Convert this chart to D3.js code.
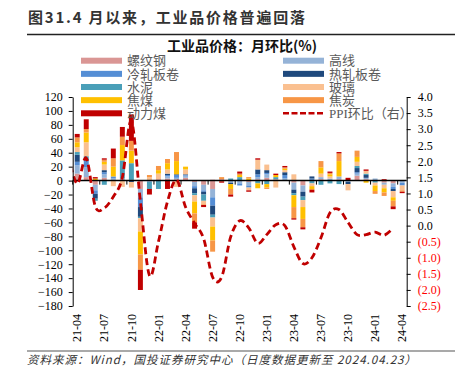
<!DOCTYPE html>
<html>
<head>
<meta charset="utf-8">
<script src="https://cdn.jsdelivr.net/npm/d3@7"></script>
<style>
  body { margin: 0; background: #fff; }
</style>
</head>
<body>
<svg id="chart" width="467" height="376"></svg>
<script>
    'use strict';

    var months = ['21-04', '21-05', '21-06', '21-07', '21-08', '21-09', '21-10', '21-11', '21-12',
        '22-01', '22-02', '22-03', '22-04', '22-05', '22-06', '22-07', '22-08', '22-09', '22-10', '22-11', '22-12',
        '23-01', '23-02', '23-03', '23-04', '23-05', '23-06', '23-07', '23-08', '23-09', '23-10', '23-11', '23-12',
        '24-01', '24-02', '24-03', '24-04'];

    // monthly change of each product price (%), left axis
    var rebar       = [10, 5, -6, 4, 1, 1, 1, -12, 0, 2, 3, 2, 4, -2, -6, -12, 2, 0, 0, -2, 2, 4, 2, 0, -3, -7, 0, 2, 0, 2, 0, 7, 2, 0, -3, -4, 0];
    var wireRod     = [12, 14, -8, 5, 2, 2, 0, -12, -2, 0, 3, 2, 3, -6, -8, -12, 0, -3, -4, -5, 3, 5, 0, 3, -10, -9, 1, 3, 3, 4, -2, 3, 2, 3, -3, -5, -3];
    var coldRolled  = [5, 10, -5, 3, 3, 0, 0, -14, 0, 0, 2, 4, 1, -3, -2, -12, 0, 0, -3, -3, 4, 2, 0, 5, 0, 0, 2, 0, 0, 0, 0, 2, 0, 0, 0, -3, -4];
    var hotRolled   = [10, 3, -7, 3, 0, 0, -2, -14, 0, 0, 2, 1, 1, -7, -4, -13, 0, -2, 0, 0, 7, 4, 0, 4, -5, -7, 3, 0, 0, 0, -3, 6, 4, 0, 0, -3, 0];
    var cement      = [4, 3, -3, -6, 0, 26, 24, -2, -10, -12, 0, 0, 0, -3, -9, -4, 0, 3, 5, 0, -4, -5, 3, 0, -3, -5, -4, -6, -4, -5, 0, 3, 2, -3, 0, 0, 0];
    var glass       = [7, 20, 0, 8, -8, -9, -8, -19, 5, 8, 6, -9, 7, -9, -5, -13, 0, 0, 0, -4, 14, 8, -10, 3, 9, -10, -4, 5, 3, 0, -9, 6, 4, -4, -5, -9, -7];
    var cokingCoal  = [7, 14, 3, 4, 14, 22, 18, -33, 0, 5, 9, 19, 4, -17, 0, -20, -1, -7, 3, 3, -7, -5, 3, 2, -17, -17, -5, 9, 3, 22, 0, 7, -3, -8, -6, -5, 0];
    var coke        = [7, 5, 0, 3, 12, 12, 14, -22, 3, 6, 6, 13, 0, -13, -1, -16, 3, -8, 2, 2, 0, -2, 0, 2, -16, -12, 0, 9, 2, 11, 0, 9, 0, -4, -5, -8, -2];
    var thermalCoal = [5, 14, 2, 2, 14, 14, 38, -29, -8, 0, -12, 0, 0, -9, -3, 1, -2, -3, 3, -2, 2, 0, 2, 2, -2, -3, -4, 0, 2, 2, 4, 0, 2, 0, 2, -4, -2];

    // PPI month on month (%), right axis
    var ppiMonths = ['21-03', '21-04', '21-05', '21-06', '21-07', '21-08', '21-09', '21-10', '21-11', '21-12',
        '22-01', '22-02', '22-03', '22-04', '22-05', '22-06', '22-07', '22-08', '22-09', '22-10', '22-11', '22-12',
        '23-01', '23-02', '23-03', '23-04', '23-05', '23-06', '23-07', '23-08', '23-09', '23-10', '23-11', '23-12',
        '24-01', '24-02', '24-03'];
    var ppi = [2.2, 1.3, 2.1, 0.6, 0.55, 0.9, 1.5, 3.25, 0.75, -1.55,
        -0.5, 0.75, 1.42, 0.58, 0.07, -0.4, -1.6, -1.6, -0.35, 0.15, -0.07, -0.55,
        -0.28, 0.03, 0.0, -0.66, -1.18, -1.0, -0.38, 0.4, 0.5, 0.1, -0.28, -0.28,
        -0.2, -0.3, -0.08];

    var seriesNames = ['螺纹钢', '高线', '冷轧板卷', '热轧板卷', '水泥', '玻璃', '焦煤', '焦炭', '动力煤'];
    var seriesValues = [rebar, wireRod, coldRolled, hotRolled, cement, glass, cokingCoal, coke, thermalCoal];
    var seriesColors = ['#DA9694', '#95B3D7', '#558ED5', '#1F497D', '#4A9FB8', '#FAC090', '#FFC000', '#F79646', '#C00000'];
    var ppiName = 'PPI环比（右）';

    var leftTicks = [120, 100, 80, 60, 40, 20, 0, -20, -40, -60, -80, -100, -120, -140, -160, -180];
    var rightTicks = [4.0, 3.5, 3.0, 2.5, 2.0, 1.5, 1.0, 0.5, 0.0, -0.5, -1.0, -1.5, -2.0, -2.5];

    var numFont = '"Liberation Serif", "Times New Roman", serif';
    var cjkFont = '"Liberation Serif", "Noto Sans CJK SC", serif';

    var plotLeft = 72.7, plotRight = 406.7, plotTop = 97, plotBottom = 306;

    var svg = d3.select('#chart');

    // header
    svg.append('text')
        .attr('x', 28)
        .attr('y', 23)
        .attr('font-family', '"Noto Sans CJK SC", sans-serif')
        .attr('font-weight', 'bold')
        .attr('font-size', 15)
        .attr('fill', '#333')
        .attr('textLength', 277)
        .attr('lengthAdjust', 'spacing')
        .text('图31.4 月以来，工业品价格普遍回落');

    svg.append('line')
        .attr('x1', 27).attr('x2', 455)
        .attr('y1', 34.5).attr('y2', 34.5)
        .attr('stroke', '#222')
        .attr('stroke-width', 1.5);

    svg.append('text')
        .attr('x', 242)
        .attr('y', 51)
        .attr('text-anchor', 'middle')
        .attr('font-family', '"Noto Sans CJK SC", sans-serif')
        .attr('font-weight', 'bold')
        .attr('font-size', 14)
        .attr('fill', '#111')
        .text('工业品价格：月环比(%)');

    // scales
    var x = d3.scaleBand()
        .domain(months)
        .range([plotLeft, plotRight])
        .paddingInner(0.45)
        .paddingOuter(0.225);

    var yLeft = d3.scaleLinear().domain([-180, 120]).range([plotBottom, plotTop]);
    var yRight = d3.scaleLinear().domain([-2.5, 4]).range([plotBottom, plotTop]);

    var rows = months.map(function (m, i) {
        var row = { month: m };
        seriesNames.forEach(function (name, j) { row[name] = seriesValues[j][i]; });
        return row;
    });

    var layers = d3.stack()
        .keys(seriesNames)
        .offset(d3.stackOffsetDiverging)(rows);

    // stacked bars
    var bars = svg.append('g').attr('class', 'bars');
    layers.forEach(function (layer, j) {
        bars.append('g')
            .attr('fill', seriesColors[j])
            .selectAll('rect')
            .data(layer.filter(function (d) { return d[1] !== d[0]; }))
            .enter().append('rect')
            .attr('x', function (d) { return x(d.data.month); })
            .attr('width', x.bandwidth())
            .attr('y', function (d) { return yLeft(d[1]); })
            .attr('height', function (d) { return yLeft(d[0]) - yLeft(d[1]); });
    });

    // category axis on the zero line
    var zeroY = yLeft(0);
    var gap = (x.step() - x.bandwidth()) / 2;
    svg.append('line')
        .attr('x1', plotLeft).attr('x2', plotRight)
        .attr('y1', zeroY).attr('y2', zeroY)
        .attr('stroke', '#000')
        .attr('stroke-width', 1.5);

    var labelIdx = d3.range(0, months.length, 3);
    svg.append('g')
        .selectAll('line')
        .data(labelIdx)
        .enter().append('line')
        .attr('x1', function (i) { return x(months[i]) - gap; })
        .attr('x2', function (i) { return x(months[i]) - gap; })
        .attr('y1', zeroY)
        .attr('y2', zeroY + 4)
        .attr('stroke', '#000');

    svg.append('g')
        .selectAll('text')
        .data(labelIdx)
        .enter().append('text')
        .attr('transform', function (i) {
            return 'translate(' + (x(months[i]) + x.bandwidth() / 2) + ',314)rotate(-90)';
        })
        .attr('dy', '0.35em')
        .attr('text-anchor', 'end')
        .attr('font-family', numFont)
        .attr('font-size', 12)
        .attr('fill', '#000')
        .text(function (i) { return months[i]; });

    // PPI line (right axis), clipped to the plot
    svg.append('clipPath')
        .attr('id', 'plot-clip')
        .append('rect')
        .attr('x', plotLeft).attr('y', 0)
        .attr('width', plotRight - plotLeft).attr('height', 376);

    function monthX(label) {
        var idx = (+label.slice(0, 2) - 21) * 12 + (+label.slice(3) - 4);
        return x(months[0]) + x.bandwidth() / 2 + idx * x.step();
    }

    var ppiLine = d3.line()
        .x(function (d, i) { return monthX(ppiMonths[i]); })
        .y(function (d) { return yRight(d); })
        .curve(d3.curveCardinal.tension(0));

    svg.append('path')
        .datum(ppi)
        .attr('clip-path', 'url(#plot-clip)')
        .attr('d', ppiLine)
        .attr('fill', 'none')
        .attr('stroke', '#C00000')
        .attr('stroke-width', 2.8)
        .attr('stroke-dasharray', '7,4');

    // legend
    var legendItems = seriesNames.map(function (name, j) {
        return { name: name, color: seriesColors[j], dashed: false };
    });
    legendItems.push({ name: ppiName, color: '#C00000', dashed: true });

    var legend = svg.append('g').attr('class', 'legend');
    legendItems.forEach(function (item, i) {
        var col = i % 2, row = Math.floor(i / 2);
        var lx = col === 0 ? 81 : 283;
        var ly = 60.7 + row * 13.15;
        if (item.dashed) {
            legend.append('line')
                .attr('x1', lx).attr('x2', lx + 41)
                .attr('y1', ly).attr('y2', ly)
                .attr('stroke', item.color)
                .attr('stroke-width', 2.5)
                .attr('stroke-dasharray', '6,2.5');
        } else {
            legend.append('rect')
                .attr('x', lx).attr('y', ly - 3)
                .attr('width', 41).attr('height', 6)
                .attr('fill', item.color);
        }
        legend.append('text')
            .attr('x', lx + 46)
            .attr('y', ly)
            .attr('dy', '0.36em')
            .attr('font-family', cjkFont)
            .attr('font-size', 13)
            .attr('fill', '#595959')
            .text(item.name);
    });

    // value axes
    var leftAxis = svg.append('g')
        .attr('transform', 'translate(' + plotLeft + ',0)')
        .call(d3.axisLeft(yLeft).tickValues(leftTicks).tickSize(4).tickSizeOuter(0).tickPadding(6)
            .tickFormat(d3.format('d')));
    leftAxis.selectAll('text').attr('font-family', numFont).attr('font-size', 12).attr('fill', '#000');

    var rightAxis = svg.append('g')
        .attr('transform', 'translate(' + plotRight + ',0)')
        .call(d3.axisRight(yRight).tickValues(rightTicks).tickSize(4).tickSizeOuter(0).tickPadding(7)
            .tickFormat(function (v) {
                return v < 0 ? '(' + Math.abs(v).toFixed(1) + ')' : v.toFixed(1);
            }));
    rightAxis.selectAll('text')
        .attr('font-family', numFont)
        .attr('font-size', 12)
        .attr('fill', function (v) { return v < 0 ? '#FF0000' : '#000'; });

    // footer
    svg.append('line')
        .attr('x1', 27).attr('x2', 455)
        .attr('y1', 351).attr('y2', 351)
        .attr('stroke', '#555')
        .attr('stroke-width', 1.2);

    svg.append('text')
        .attr('x', 27)
        .attr('y', 364)
        .attr('font-family', '"Noto Sans CJK SC", sans-serif')
        .attr('font-style', 'italic')
        .attr('font-size', 11.5)
        .attr('fill', '#333')
        .attr('textLength', 389)
        .attr('lengthAdjust', 'spacing')
        .text('资料来源：Wind，国投证券研究中心（日度数据更新至 2024.04.23）');
</script>
</body>
</html>
